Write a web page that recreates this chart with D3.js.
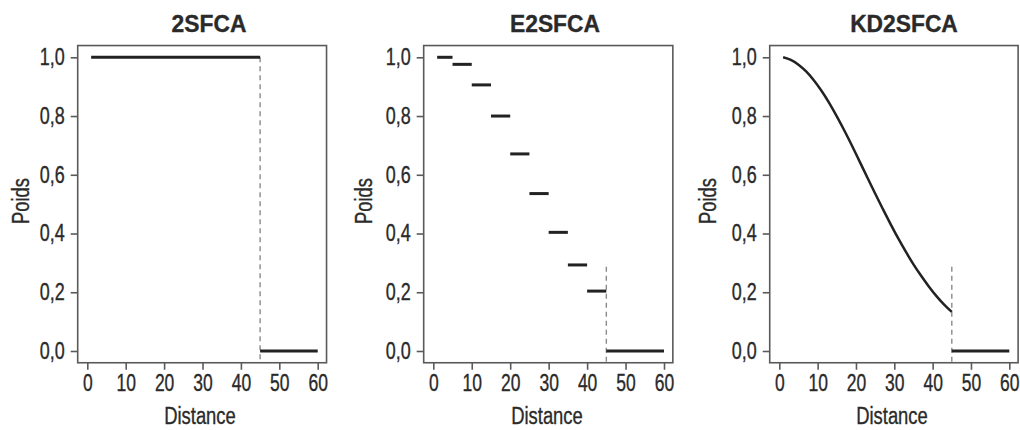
<!DOCTYPE html>
<html><head><meta charset="utf-8">
<script src="https://cdn.jsdelivr.net/npm/d3@7"></script>
<style>
body{margin:0;background:#fff;}
text{font-family:"Liberation Sans Narrow","Liberation Sans",Arial,sans-serif;fill:#2a2a2a;stroke:#2a2a2a;stroke-width:0.35px;}
</style></head>
<body><svg id="c" width="1020" height="430"></svg>
<script>
const titles = ["2SFCA", "E2SFCA", "KD2SFCA"];
const xTicks = [0, 10, 20, 30, 40, 50, 60];
const yTicks = [0, 0.2, 0.4, 0.6, 0.8, 1.0];
const cutoff = 45;
const maxDist = 60;

// 2SFCA : constant weight up to the cutoff
const p1Segments = [{x0: 1, x1: 45, y: 1.0}];
// E2SFCA : step weights per 5-minute band
const p2StepStarts = [1, 5, 10, 15, 20, 25, 30, 35, 40];
const p2StepEnds   = [5, 10, 15, 20, 25, 30, 35, 40, 45];
const p2StepValues = [1.00, 0.976, 0.906, 0.80, 0.671, 0.536, 0.404, 0.293, 0.204];
// KD2SFCA : continuous kernel decay
const p3Dist   = [1, 3, 5, 7, 9, 11, 13, 15, 17, 19, 21, 23, 25, 27, 29, 31, 33, 35, 37, 39, 41, 43, 45];
const p3Weight = [1.00, 0.991, 0.975, 0.952, 0.922, 0.886, 0.845, 0.799, 0.750, 0.698, 0.644, 0.590, 0.536, 0.484, 0.433, 0.384, 0.338, 0.295, 0.256, 0.220, 0.187, 0.158, 0.133];
// zero segment beyond the cutoff
const zeroSegment = {x0: 45, x1: 60, y: 0};
// top of the dashed cutoff line per panel
const dashTop = [1.0, 0.287, 0.287];

const svg = d3.select("#c");
const panels = [
  {x0: 87.3, x60: 317.7, title: 209, poids: 21, dist: 200},
  {x0: 433.3, x60: 664, title: 555, poids: 364, dist: 547},
  {x0: 779.3, x60: 1009.3, title: 904, poids: 708, dist: 892}
];
const yTop = 57.3, yBot = 351;
const FONT = '"Liberation Sans Narrow","Liberation Sans",sans-serif';

function condense(sel, f) {
  sel.each(function() {
    const w = this.getComputedTextLength();
    d3.select(this).attr("textLength", w * f).attr("lengthAdjust", "spacingAndGlyphs");
  });
}

panels.forEach((p, i) => {
  const x = d3.scaleLinear().domain([0, 60]).range([p.x0, p.x60]);
  const y = d3.scaleLinear().domain([0, 1]).range([yBot, yTop]);
  const g = svg.append("g");
  const fx0 = x(-2.5), fx1 = x(62.3), fy0 = y(1.04), fy1 = y(-0.04);

  // frame
  g.append("rect").attr("x", fx0).attr("y", fy0).attr("width", fx1 - fx0).attr("height", fy1 - fy0)
    .attr("fill", "none").attr("stroke", "#5a5a5a").attr("stroke-width", 1.6);

  // axes
  const yAxis = d3.axisLeft(y).tickValues(yTicks).tickFormat(d => d3.format(".1f")(d).replace(".", ","))
    .tickSize(7).tickPadding(6);
  const ya = g.append("g").attr("transform", `translate(${fx0},0)`).call(yAxis);
  ya.select(".domain").remove();
  ya.selectAll("line").attr("stroke", "#5a5a5a").attr("stroke-width", 1.6);
  ya.selectAll("text").attr("font-size", 23).attr("fill", "#2a2a2a").style("font-family", FONT);
  condense(ya.selectAll("text"), 0.78);

  const xAxis = d3.axisBottom(x).tickValues(xTicks).tickSize(7).tickPadding(5);
  const xa = g.append("g").attr("transform", `translate(0,${fy1})`).call(xAxis);
  xa.select(".domain").remove();
  xa.selectAll("line").attr("stroke", "#5a5a5a").attr("stroke-width", 1.6);
  xa.selectAll("text").attr("font-size", 23).attr("fill", "#2a2a2a").style("font-family", FONT);
  condense(xa.selectAll("text"), 0.76);

  // titles and labels
  const t = g.append("text").attr("x", p.title).attr("y", 32).attr("text-anchor", "middle")
    .attr("font-size", 24).attr("font-weight", "bold").text(titles[i]);
  condense(t, 0.95);
  const pl = g.append("text").attr("transform", `translate(${p.poids + 8},${201}) rotate(-90)`)
    .attr("text-anchor", "middle").attr("font-size", 23).text("Poids");
  condense(pl, 0.8);
  const dl = g.append("text").attr("x", p.dist).attr("y", 424).attr("text-anchor", "middle")
    .attr("font-size", 23).text("Distance");
  condense(dl, 0.8);

  // dashed cutoff
  g.append("line").attr("x1", x(cutoff)).attr("x2", x(cutoff))
    .attr("y1", y(dashTop[i])).attr("y2", fy1)
    .attr("stroke", "#8a8a8a").attr("stroke-width", 1.4).attr("stroke-dasharray", "5,4");

  const segs = [];
  if (i === 0) p1Segments.forEach(s => segs.push(s));
  if (i === 1) p2StepValues.forEach((v, k) => segs.push({x0: p2StepStarts[k], x1: p2StepEnds[k], y: v}));
  segs.push(zeroSegment);
  g.selectAll(".seg").data(segs).join("line").attr("class", "seg")
    .attr("x1", d => x(d.x0)).attr("x2", d => x(d.x1))
    .attr("y1", d => y(d.y)).attr("y2", d => y(d.y))
    .attr("stroke", "#222").attr("stroke-width", 3);

  if (i === 2) {
    const line = d3.line().x((d, k) => x(p3Dist[k])).y(d => y(d)).curve(d3.curveMonotoneX);
    g.append("path").attr("d", line(p3Weight)).attr("fill", "none")
      .attr("stroke", "#222").attr("stroke-width", 2.5);
  }
});
</script></body></html>
